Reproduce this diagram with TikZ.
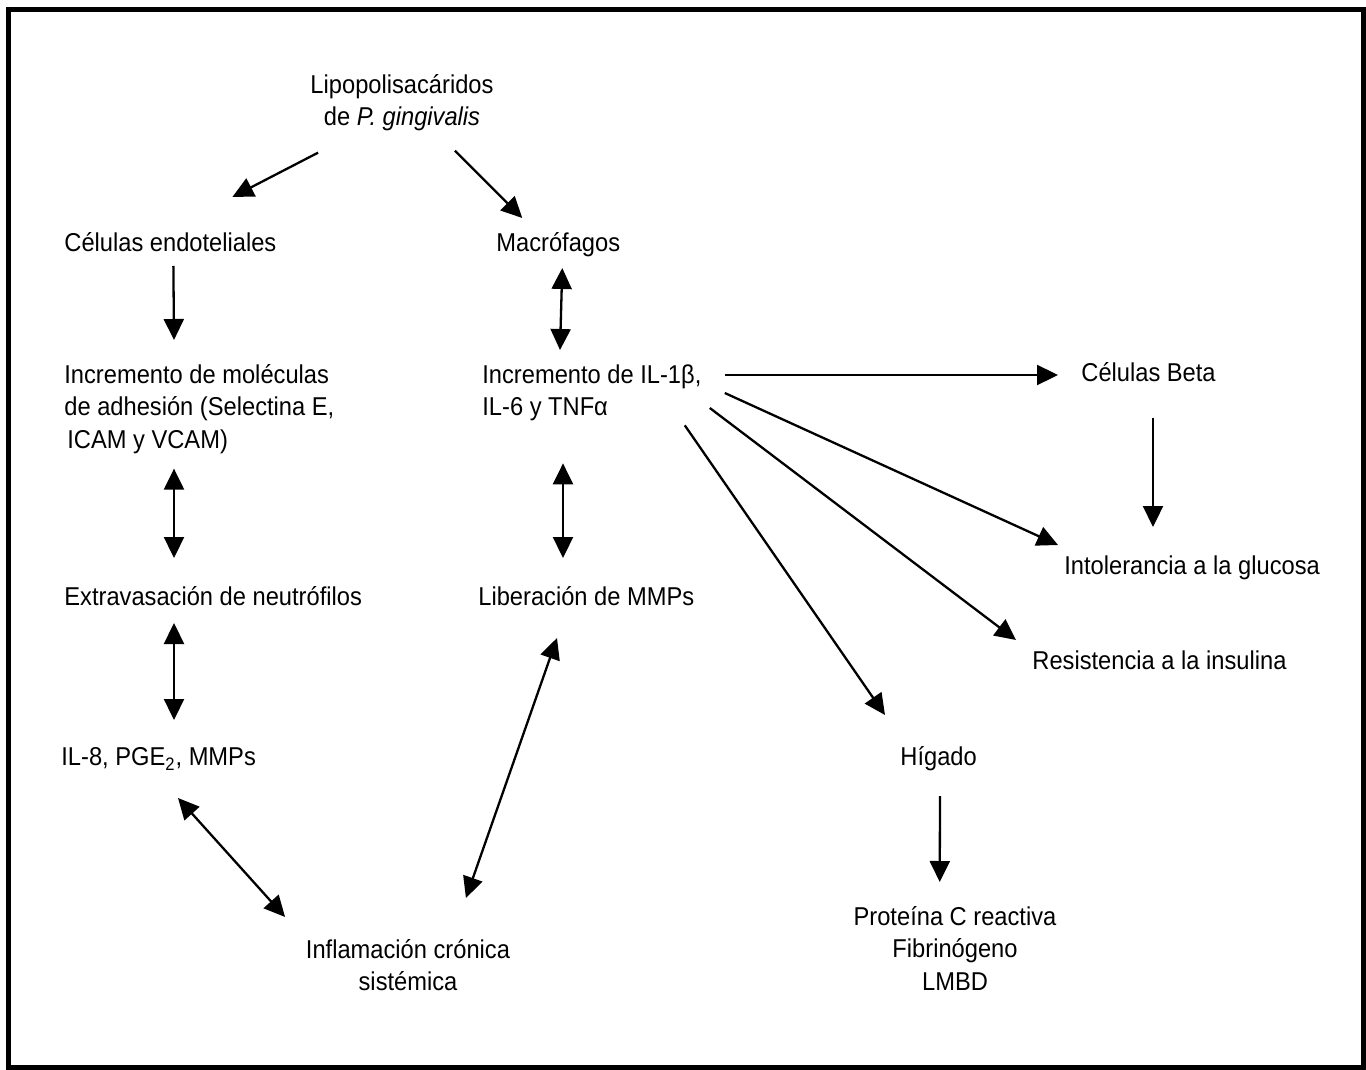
\documentclass[tikz,border=0pt]{standalone}
\usepackage{fontspec}
\setmainfont{Liberation Sans}[FakeStretch=0.918]
\usetikzlibrary{arrows.meta}
\tikzstyle{txt} = [inner sep=0pt, anchor=north west, font=\fontsize{12.9}{16.25}\selectfont, text height=0.875em, text depth=0.21em]
\tikzstyle{txtL} = [inner sep=0pt, anchor=north west, align=left, font=\fontsize{12.9}{16.25}\selectfont]
\tikzstyle{txtC} = [inner sep=0pt, anchor=north, align=center, font=\fontsize{12.9}{16.25}\selectfont]
\tikzstyle{arrow} = [line width=1.15pt,->,>={Triangle[length=10.5pt,width=10pt]}]
\tikzstyle{arrowD} = [arrow,<->]

\begin{document}
\begin{tikzpicture}[x=0.5pt,y=-0.5pt]
        \useasboundingbox (0,0) rectangle (1366,1070);
        \draw [line width=2.5pt] (8.5,10) rectangle (1363.5,1067.5);

        \node (lps) [txtC] at (402,74) {Lipopolisacáridos\\de \textit{P. gingivalis}};
        \node (endo) [txt] at (64,234) {Células endoteliales};
        \node (macro) [txt] at (496,234) {Macrófagos};
        \node (molec) [txtL] at (64,364) {Incremento de moléculas\\de adhesión (Selectina E,\\\hspace{1.5pt}ICAM y VCAM)};
        \node (il1) [txtL] at (482,364) {Incremento de IL-1β,\\IL-6 y TNFα};
        \node (beta) [txt] at (1081,364) {Células Beta};
        \node (extra) [txt] at (64,588) {Extravasación de neutrófilos};
        \node (libmmp) [txt] at (478,588) {Liberación de MMPs};
        \node (intol) [txt] at (1064,557) {Intolerancia a la glucosa};
        \node (resist) [txt] at (1032,652) {Resistencia a la insulina};
        \node (il8) [txt] at (61,748) {IL-8, PGE\textsubscript{2}, MMPs};
        \node (higado) [txt] at (900,748) {Hígado};
        \node (infl) [txtC] at (408,939) {Inflamación crónica\\sistémica};
        \node (prot) [txtC] at (955,906) {Proteína C reactiva\\Fibrinógeno\\LMBD};

        \draw [arrow] ([shift={(8,21)}]lps.south west) -- ([shift={(62,-37)}]endo.north);
        \draw [arrow] ([shift={(-39,19)}]lps.south east) -- ([shift={(-36,-16)}]macro.north);
        \draw [arrow] ([shift={(3,9.5)}]endo.south) -- ([shift={(110,-24)}]molec.north west);
        \draw [arrowD] ([shift={(4,11.5)}]macro.south) -- ([shift={(78,-14)}]il1.north west);
        \draw [arrowD] ([shift={(110,14.5)}]molec.south west) -- ([shift={(110,-30)}]extra.north west);
        \draw [arrowD] ([shift={(81,42)}]il1.south west) -- ([shift={(85,-30)}]libmmp.north west);
        \draw [arrowD] ([shift={(110,12.5)}]extra.south west) -- ([shift={(113,-28)}]il8.north west);
        \draw [arrowD] ([shift={(117,27.5)}]il8.south west) -- ([shift={(-20.5,-22)}]infl.north west);
        \draw [arrowD] ([shift={(79,27.5)}]libmmp.south west) -- ([shift={(-44.5,-41)}]infl.north east);

        \draw [arrow] ([shift={(23,11)}]il1.north east) -- ([shift={(-23,11)}]beta.north west);
        \draw [arrow] ([shift={(23,29)}]il1.north east) -- ([shift={(-6,-12)}]intol.north west);
        \draw [arrow] ([shift={(8,44)}]il1.north east) -- ([shift={(-16,-12)}]resist.north west);
        \draw [arrow] ([shift={(-17,4)}]il1.south east) -- ([shift={(-15,-33)}]higado.north west);
        \draw [arrow] ([shift={(72,31.5)}]beta.south west) -- ([shift={(89,-30)}]intol.north west);
        \draw [arrow] ([shift={(40,25.5)}]higado.south west) -- ([shift={(86.5,-24)}]prot.north west);
\end{tikzpicture}
\end{document}
